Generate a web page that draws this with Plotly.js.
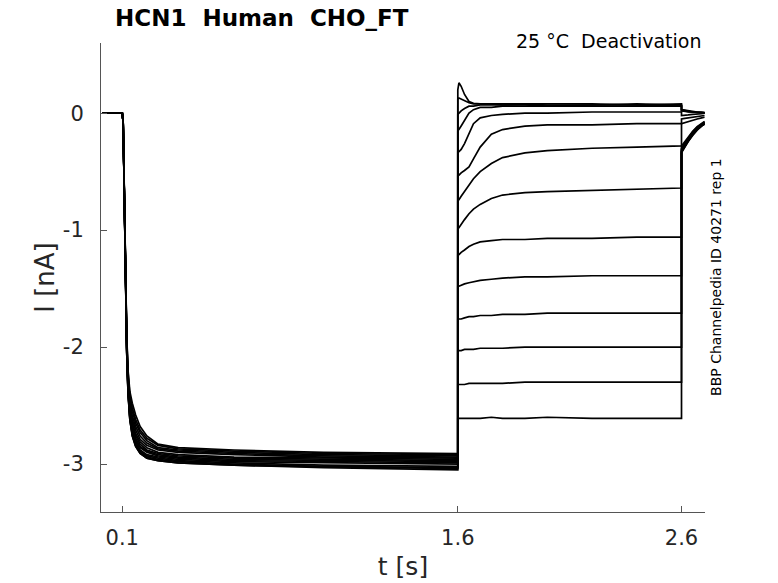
<!DOCTYPE html>
<html>
<head>
<meta charset="utf-8">
<script src="https://cdn.plot.ly/plotly-3.0.1.min.js"></script>
<style>
  html, body { margin: 0; padding: 0; background: #fff; }
  #chart { width: 778px; height: 583px; }
</style>
</head>
<body>
<div id="chart"></div>
<script>
// sweep time bases [s]: holding + activation step, test (deactivation) step, tail
var actT = [0.01, 0.05, 0.1, 0.104, 0.108, 0.112, 0.116, 0.12, 0.126, 0.134, 0.145, 0.16, 0.18, 0.21, 0.26, 0.35, 0.6, 1.0, 1.6];
var deactT = [1.6, 1.605, 1.615, 1.63, 1.65, 1.67, 1.7, 1.75, 1.8, 1.9, 2.0, 2.2, 2.4, 2.6];
var tailT = [2.6, 2.615, 2.63, 2.65, 2.67, 2.69, 2.703];

// current [nA] during the activation step, one row per sweep
var actI = [
    [0, 0, 0, -0.08, -0.63, -1.16, -1.64, -1.99, -2.33, -2.54, -2.67, -2.76, -2.83, -2.88, -2.91, -2.93, -2.95, -2.96, -2.97],
    [0, 0, 0, -0.08, -0.65, -1.19, -1.69, -2.04, -2.39, -2.61, -2.75, -2.84, -2.90, -2.94, -2.96, -2.98, -3.00, -3.02, -3.03],
    [0, 0, 0, -0.08, -0.61, -1.12, -1.58, -1.93, -2.25, -2.44, -2.55, -2.65, -2.73, -2.80, -2.86, -2.88, -2.90, -2.92, -2.93],
    [0, 0, 0, -0.08, -0.64, -1.18, -1.67, -2.02, -2.37, -2.59, -2.72, -2.81, -2.88, -2.92, -2.94, -2.96, -2.98, -2.99, -3.00],
    [0, 0, 0, -0.08, -0.62, -1.14, -1.61, -1.96, -2.29, -2.50, -2.62, -2.71, -2.79, -2.84, -2.88, -2.90, -2.92, -2.94, -2.95],
    [0, 0, 0, -0.08, -0.65, -1.20, -1.70, -2.05, -2.40, -2.62, -2.76, -2.85, -2.91, -2.95, -2.97, -2.99, -3.01, -3.03, -3.05],
    [0, 0, 0, -0.08, -0.61, -1.11, -1.57, -1.92, -2.22, -2.41, -2.52, -2.62, -2.71, -2.78, -2.84, -2.87, -2.89, -2.91, -2.92],
    [0, 0, 0, -0.08, -0.63, -1.16, -1.65, -2.00, -2.34, -2.56, -2.69, -2.78, -2.85, -2.89, -2.92, -2.94, -2.96, -2.97, -2.98],
    [0, 0, 0, -0.08, -0.64, -1.19, -1.68, -2.03, -2.38, -2.60, -2.74, -2.83, -2.89, -2.93, -2.95, -2.97, -2.99, -3.01, -3.02],
    [0, 0, 0, -0.08, -0.62, -1.13, -1.60, -1.95, -2.27, -2.47, -2.59, -2.68, -2.76, -2.82, -2.87, -2.89, -2.91, -2.93, -2.94],
    [0, 0, 0, -0.08, -0.64, -1.17, -1.66, -2.01, -2.35, -2.57, -2.71, -2.80, -2.86, -2.90, -2.93, -2.95, -2.97, -2.98, -2.99],
    [0, 0, 0, -0.08, -0.65, -1.20, -1.70, -2.05, -2.40, -2.62, -2.76, -2.85, -2.91, -2.95, -2.97, -2.99, -3.01, -3.02, -3.04],
    [0, 0, 0, -0.07, -0.60, -1.10, -1.55, -1.90, -2.20, -2.38, -2.48, -2.58, -2.68, -2.76, -2.83, -2.86, -2.88, -2.90, -2.91],
    [0, 0, 0, -0.08, -0.63, -1.15, -1.63, -1.98, -2.31, -2.52, -2.65, -2.74, -2.81, -2.86, -2.90, -2.92, -2.94, -2.95, -2.96]
];

// current [nA] during the test step
var deactI = [
    [-2.61, -2.61, -2.61, -2.61, -2.61, -2.61, -2.61, -2.60, -2.61, -2.61, -2.60, -2.61, -2.61, -2.61],
    [-2.32, -2.32, -2.32, -2.32, -2.31, -2.31, -2.31, -2.31, -2.31, -2.30, -2.30, -2.30, -2.30, -2.30],
    [-2.03, -2.03, -2.03, -2.02, -2.02, -2.02, -2.01, -2.01, -2.01, -2.00, -2.00, -2.00, -2.00, -2.00],
    [-1.76, -1.76, -1.76, -1.75, -1.74, -1.74, -1.73, -1.73, -1.72, -1.72, -1.71, -1.71, -1.71, -1.71],
    [-1.48, -1.48, -1.47, -1.46, -1.45, -1.44, -1.43, -1.42, -1.41, -1.40, -1.40, -1.39, -1.39, -1.39],
    [-1.21, -1.21, -1.19, -1.17, -1.14, -1.12, -1.10, -1.09, -1.08, -1.08, -1.07, -1.07, -1.06, -1.06],
    [-0.99, -0.98, -0.95, -0.91, -0.86, -0.82, -0.78, -0.73, -0.70, -0.68, -0.67, -0.66, -0.65, -0.64],
    [-0.75, -0.74, -0.71, -0.67, -0.62, -0.56, -0.50, -0.43, -0.38, -0.34, -0.32, -0.30, -0.29, -0.28],
    [-0.53, -0.53, -0.51, -0.49, -0.46, -0.39, -0.29, -0.18, -0.14, -0.11, -0.10, -0.10, -0.09, -0.09],
    [-0.33, -0.33, -0.31, -0.26, -0.17, -0.09, -0.04, -0.02, -0.01, 0.00, 0.00, 0.01, 0.01, 0.01],
    [-0.15, -0.14, -0.11, -0.06, 0.00, 0.03, 0.05, 0.05, 0.06, 0.06, 0.06, 0.06, 0.06, 0.06],
    [-0.01, 0.00, 0.02, 0.04, 0.06, 0.06, 0.07, 0.07, 0.07, 0.07, 0.06, 0.07, 0.07, 0.06],
    [0.12, 0.13, 0.12, 0.11, 0.09, 0.08, 0.08, 0.08, 0.07, 0.08, 0.07, 0.07, 0.08, 0.07],
    [0.20, 0.26, 0.23, 0.16, 0.10, 0.085, 0.08, 0.08, 0.08, 0.08, 0.08, 0.08, 0.07, 0.08]
];

// tail current [nA] after returning to the tail potential
var tailI = [
    [-0.34, -0.29, -0.24, -0.19, -0.145, -0.11, -0.095],
    [-0.33, -0.285, -0.235, -0.185, -0.14, -0.105, -0.09],
    [-0.33, -0.28, -0.23, -0.18, -0.135, -0.10, -0.09],
    [-0.32, -0.275, -0.225, -0.175, -0.13, -0.10, -0.085],
    [-0.31, -0.265, -0.22, -0.17, -0.125, -0.095, -0.08],
    [-0.30, -0.255, -0.21, -0.16, -0.12, -0.09, -0.075],
    [-0.28, -0.24, -0.20, -0.155, -0.115, -0.085, -0.07],
    [-0.09, -0.08, -0.07, -0.06, -0.05, -0.04, -0.035],
    [-0.05, -0.045, -0.04, -0.035, -0.03, -0.025, -0.02],
    [-0.02, -0.02, -0.015, -0.01, -0.01, -0.005, 0.0],
    [0.02, 0.015, 0.01, 0.01, 0.005, 0.0, 0.0],
    [0.02, 0.02, 0.015, 0.01, 0.005, 0.005, 0.0],
    [0.03, 0.02, 0.015, 0.01, 0.01, 0.005, 0.005],
    [0.03, 0.025, 0.02, 0.015, 0.01, 0.01, 0.005]
];

var xTicks = [0.1, 1.6, 2.6];
var xTickText = ['0.1', '1.6', '2.6'];
var yTicks = [-3, -2, -1, 0];
var yTickText = ['-3', '-2', '-1', '0'];

var data = [];
for (var i = 0; i < actI.length; i++) {
    data.push({
        x: actT.concat(deactT, tailT),
        y: actI[i].concat(deactI[i], tailI[i]),
        type: 'scatter',
        mode: 'lines',
        line: {color: '#000000', width: 1.7},
        hoverinfo: 'none',
        showlegend: false
    });
}

var axisColor = '#555555';
var textColor = '#262626';

var layout = {
    width: 778,
    height: 583,
    margin: {l: 101, r: 73, t: 43, b: 71, pad: 0},
    paper_bgcolor: '#ffffff',
    plot_bgcolor: '#ffffff',
    font: {family: 'DejaVu Sans', color: textColor},
    xaxis: {
        range: [0.005, 2.705],
        showgrid: false,
        zeroline: false,
        showline: true,
        linecolor: axisColor,
        linewidth: 1,
        ticks: 'inside',
        ticklen: 6,
        tickcolor: axisColor,
        tickvals: xTicks,
        ticktext: xTickText,
        tickfont: {size: 21, color: textColor},
        ticklabelstandoff: 7,
        title: {text: 't [s]', font: {size: 25, color: textColor}, standoff: 8}
    },
    yaxis: {
        range: [-3.41, 0.6],
        showgrid: false,
        zeroline: false,
        showline: true,
        linecolor: axisColor,
        linewidth: 1,
        ticks: 'inside',
        ticklen: 6,
        tickcolor: axisColor,
        tickvals: yTicks,
        ticktext: yTickText,
        tickfont: {size: 21, color: textColor},
        ticklabelstandoff: 12,
        title: {text: 'I [nA]', font: {size: 26, color: textColor}, standoff: 0}
    },
    annotations: [
        {
            text: '<b>HCN1\u00a0\u00a0Human\u00a0\u00a0CHO_FT</b>',
            xref: 'paper', yref: 'paper',
            x: 0.0199, y: 1.053,
            xanchor: 'left', yanchor: 'middle',
            showarrow: false,
            font: {size: 23, color: '#000000'}
        },
        {
            text: '25 \u00b0C\u00a0\u00a0Deactivation',
            xref: 'paper', yref: 'paper',
            x: 0.9967, y: 1.004,
            xanchor: 'right', yanchor: 'middle',
            showarrow: false,
            font: {size: 19, color: '#000000'}
        },
        {
            text: 'BBP Channelpedia ID 40271 rep 1',
            xref: 'paper', yref: 'paper',
            x: 1.018, y: 0.501,
            xanchor: 'center', yanchor: 'middle',
            textangle: -90,
            showarrow: false,
            font: {size: 14, color: '#000000'}
        }
    ]
};

Plotly.newPlot('chart', data, layout, {displayModeBar: false, staticPlot: true});
</script>
</body>
</html>
